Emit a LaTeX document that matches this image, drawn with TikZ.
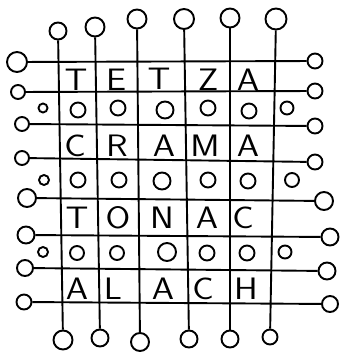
\documentclass[tikz,border=0pt]{standalone}
\usepackage{graphicx}
\newcommand\Lw[1]{\scalebox{1.15}[1]{#1}}
\begin{document}
\begin{tikzpicture}[x=1pt,y=-1pt,line width=1.9pt,
  ring/.style={draw,circle,inner sep=0pt,minimum size=#1},
  ring/.default=15,
  lettr/.style={font=\sffamily\fontsize{31}{31}\selectfont,inner sep=0pt}]
\fill[white] (0,0) rectangle (340,353);
\useasboundingbox (0,0) rectangle (340,353);
% left circles
\node[ring=20] (L1) at (17,62) {};
\node[ring=14] (L2) at (18,92) {};
\node[ring=14] (L3) at (22,124) {};
\node[ring=14] (L4) at (22,158) {};
\node[ring=18] (L5) at (27,198) {};
\node[ring=17] (L6) at (26,235) {};
\node[ring=16] (L7) at (25,268) {};
\node[ring=15] (L8) at (24,302) {};
% right circles
\node[ring=15] (R1) at (315,61) {};
\node[ring=15] (R2) at (315,91) {};
\node[ring=15] (R3) at (315,126) {};
\node[ring=15] (R4) at (315,162) {};
\node[ring=18] (R5) at (324,201) {};
\node[ring=17] (R6) at (330,237) {};
\node[ring=17] (R7) at (327,271) {};
\node[ring=16] (R8) at (330,304) {};
% top circles
\node[ring=17] (T1) at (58,31) {};
\node[ring=19] (T2) at (95,27) {};
\node[ring=19] (T3) at (137,19) {};
\node[ring=20] (T4) at (184,19) {};
\node[ring=19] (T5) at (230,18) {};
\node[ring=21] (T6) at (276,19) {};
% bottom circles
\node[ring=19] (B1) at (63,340) {};
\node[ring=17] (B2) at (100,338) {};
\node[ring=18] (B3) at (140,342) {};
\node[ring=17] (B4) at (189,339) {};
\node[ring=17] (B5) at (230,339) {};
\node[ring=15] (B6) at (270,337) {};
% grid lines
\foreach \i in {1,...,8} {\draw (L\i) -- (R\i);}
\foreach \j in {1,...,6} {\draw (T\j) -- (B\j);}
% small circles rows
\node[ring=9]  (a1) at (43,108) {};
\node[ring=15] (a2) at (78,110) {};
\node[ring=15] (a3) at (118,108) {};
\node[ring=17] (a4) at (165,110) {};
\node[ring=15] (a5) at (208,108) {};
\node[ring=15] (a6) at (249,111) {};
\node[ring=13] (a7) at (287,108) {};
\node[ring=10] (b1) at (44,180) {};
\node[ring=15] (b2) at (78,180) {};
\node[ring=15] (b3) at (119,180) {};
\node[ring=17] (b4) at (162,181) {};
\node[ring=15] (b5) at (208,180) {};
\node[ring=15] (b6) at (248,181) {};
\node[ring=14] (b7) at (292,180) {};
\node[ring=10] (c1) at (43,252) {};
\node[ring=14] (c2) at (77,253) {};
\node[ring=14] (c3) at (117,253) {};
\node[ring=18] (c4) at (167,252) {};
\node[ring=15] (c5) at (207,253) {};
\node[ring=15] (c6) at (247,253) {};
\node[ring=13] (c7) at (285,252) {};
% letters
\node[lettr] (w11) at (76,80) {\Lw{T}};
\node[lettr] (w12) at (116,80) {\Lw{E}};
\node[lettr] (w13) at (159,79) {\Lw{T}};
\node[lettr] (w14) at (208,80) {\Lw{Z}};
\node[lettr] (w15) at (248,80) {\Lw{A}};
\node[lettr] (w21) at (75,146) {\Lw{C}};
\node[lettr] (w22) at (117,146) {\Lw{R}};
\node[lettr] (w23) at (164,146) {\Lw{A}};
\node[lettr] (w24) at (205,146) {\Lw{M}};
\node[lettr] (w25) at (248,146) {\Lw{A}};
\node[lettr] (w31) at (77,218) {\Lw{T}};
\node[lettr] (w32) at (118,218) {\Lw{O}};
\node[lettr] (w33) at (162,218) {\Lw{N}};
\node[lettr] (w34) at (207,218) {\Lw{A}};
\node[lettr] (w35) at (243,218) {\Lw{C}};
\node[lettr] (w41) at (77,289) {\Lw{A}};
\node[lettr] (w42) at (113,289) {\Lw{L}};
\node[lettr] (w43) at (163,289) {\Lw{A}};
\node[lettr] (w44) at (203,289) {\Lw{C}};
\node[lettr] (w45) at (246,289) {\Lw{H}};
\end{tikzpicture}
\end{document}
